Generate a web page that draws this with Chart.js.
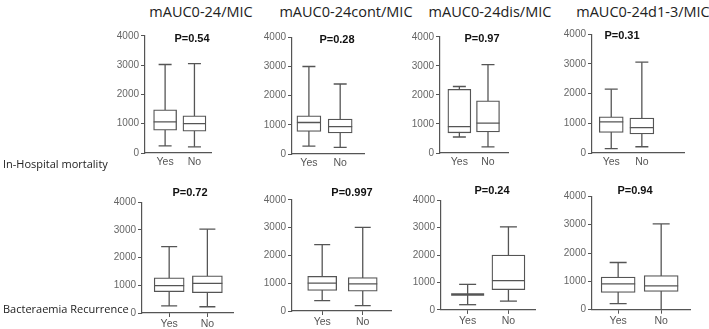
<!DOCTYPE html>
<html>
<head>
<meta charset="utf-8">
<script src="https://cdn.jsdelivr.net/npm/chart.js@4.4.1/dist/chart.umd.min.js"></script>
<style>
  body { margin: 0; background: #fff; }
  #page { position: relative; width: 709px; height: 329px; overflow: hidden; }
  canvas { position: absolute; }
  .lbl { position: absolute; white-space: nowrap; transform: translate(-50%, -50%); z-index: 2; }
  .title { font: 14.5px "Open Sans", sans-serif; color: #222; }
  .pval { font: bold 11px "Liberation Sans", Arial, sans-serif; color: #111; }
  .row { font: 11px "Open Sans", sans-serif; color: #222; transform: translate(0, -50%); }
</style>
</head>
<body>
<div id="page"></div>
<script>
const categories = ['Yes', 'No'];
const panelTitles = ['mAUC0-24/MIC', 'mAUC0-24cont/MIC', 'mAUC0-24dis/MIC', 'mAUC0-24d1-3/MIC'];
const rowLabels = ['In-Hospital mortality', 'Bacteraemia Recurrence'];
const yTicks = [0, 1000, 2000, 3000, 4000];

// each group: [min, q1, median, q3, max]
const mortAuc = [[240, 775, 1060, 1475, 3020], [210, 745, 1005, 1270, 3050]];
const mortCont = [[270, 775, 1080, 1310, 3000], [230, 720, 940, 1200, 2400]];
const mortDis = [[550, 695, 910, 2190, 2290], [210, 725, 1025, 1795, 3040]];
const mortD13 = [[150, 695, 1050, 1220, 2150], [210, 645, 855, 1180, 3060]];
const recAuc = [[255, 770, 990, 1270, 2400], [225, 735, 1070, 1345, 3030]];
const recCont = [[370, 740, 1000, 1250, 2390], [190, 710, 975, 1205, 3010]];
const recDis = [[190, 560, 560, 560, 930], [320, 735, 1065, 2000, 3025]];
const recD13 = [[215, 610, 910, 1150, 1665], [0, 645, 840, 1205, 3025]];

const pMort = ['P=0.54', 'P=0.28', 'P=0.97', 'P=0.31'];
const pRec = ['P=0.72', 'P=0.997', 'P=0.24', 'P=0.94'];

// layout: left, right, top, bottom, x of Yes, x of No, box width, cap width, p-label x, p-label y
const frames = [
  [145, 224, 31, 153, 169, 204, 23, 13, 192, 38],
  [292, 378, 32, 154, 312, 349, 24, 13, 337, 39],
  [440, 521, 32, 153, 463, 497, 23, 13, 482, 38],
  [592, 698, 29, 153, 614, 649, 24, 13, 622, 35],
  [142, 250, 194, 313, 174, 219, 30, 16, 190, 192],
  [292, 407, 192, 311, 327, 374, 29, 16, 352, 192],
  [441, 555, 189, 311, 473, 522, 33, 17, 492, 190],
  [592, 709, 186, 310, 623, 674, 34, 17, 635, 190]
];
const titlePos = [[201, 11], [346, 11], [490, 11], [643, 11]];
const rowPos = [[3, 163], [3, 308]];

const page = document.getElementById('page');
const ink = '#555';
const PAD_TOP = 8, Y_W = 40, X_H = 18;

function addText(cls, text, x, y) {
  const d = document.createElement('div');
  d.className = 'lbl ' + cls;
  d.textContent = text;
  d.style.left = x + 'px';
  d.style.top = y + 'px';
  page.appendChild(d);
}

function drawPanel(stats, pText, f, row) {
  const [L, R, T, B, xYes, xNo, bw, cap, px, py] = f;
  const cv = document.createElement('canvas');
  const w = R - L + Y_W, h = B - T + PAD_TOP + X_H;
  cv.width = w; cv.height = h;
  cv.style.left = (L - Y_W) + 'px';
  cv.style.top = (T - PAD_TOP) + 'px';
  cv.style.width = w + 'px'; cv.style.height = h + 'px';
  page.appendChild(cv);

  const unit = xNo - xYes;
  const xMin = 1 - (xYes - L) / unit;
  const xMax = 2 + (R - xNo) / unit;

  const whisk = [], caps = [], meds = [], boxes = [];
  stats.forEach((s, k) => {
    whisk.push({ x: k + 1, y: s[0] }, { x: k + 1, y: s[4] }, { x: k + 1, y: null });
    caps.push({ x: k + 1, y: s[0] }, { x: k + 1, y: s[4] });
    meds.push({ x: k + 1, y: s[2], flat: s[1] === s[3] });
    boxes.push({ x: k + 1, y: [s[1], s[3]] });
  });

  new Chart(cv, {
    type: 'bar',
    data: {
      datasets: [
        { type: 'line', data: whisk, borderColor: ink, borderWidth: 1.3, pointRadius: 0, spanGaps: false, order: 3 },
        { type: 'bar', data: boxes, backgroundColor: '#fff', borderColor: ink, borderWidth: 1.3,
          borderSkipped: false, barThickness: bw, grouped: false, order: 2 },
        { type: 'line', data: caps, showLine: false, pointStyle: 'line', pointRadius: cap / 2,
          pointBorderColor: ink, pointBorderWidth: 1.3, order: 1 },
        { type: 'line', data: meds, showLine: false, pointStyle: 'line', pointRadius: bw / 2,
          pointBorderColor: ink, pointBorderWidth: ctx => (ctx.raw && ctx.raw.flat ? 2.6 : 1.3), order: 0 }
      ]
    },
    options: {
      responsive: false,
      animation: false,
      devicePixelRatio: 1,
      events: [],
      layout: { padding: { top: PAD_TOP, right: 0, left: 0, bottom: 0 } },
      plugins: { legend: { display: false }, tooltip: { enabled: false } },
      scales: {
        x: {
          type: 'linear', min: xMin, max: xMax, offset: false,
          afterBuildTicks: s => { s.ticks = [{ value: 1 }, { value: 2 }]; },
          afterFit: s => { s.height = X_H; },
          grid: { offset: false, drawOnChartArea: false, drawTicks: row === 1, tickLength: 4, color: ink },
          border: { display: true, color: ink, width: 1.2 },
          ticks: { callback: v => categories[v - 1], color: '#555', padding: row === 1 ? 1 : 3,
                   font: { family: 'Liberation Sans', size: 10.5 }, maxRotation: 0 }
        },
        y: {
          min: 0, max: 4000,
          afterBuildTicks: s => { s.ticks = yTicks.map(v => ({ value: v })); },
          afterFit: s => { s.width = Y_W; },
          grid: { drawOnChartArea: false, tickLength: 4, color: ink },
          border: { display: true, color: ink, width: 1.2 },
          ticks: { callback: v => String(v), color: '#666', padding: 2,
                   font: { family: 'Liberation Sans', size: 10 } }
        }
      }
    }
  });
  addText('pval', pText, px, py);
}

const panels = [mortAuc, mortCont, mortDis, mortD13, recAuc, recCont, recDis, recD13];
const pTexts = pMort.concat(pRec);
panels.forEach((stats, i) => drawPanel(stats, pTexts[i], frames[i], i < 4 ? 0 : 1));

panelTitles.forEach((t, i) => addText('title', t, titlePos[i][0], titlePos[i][1]));
rowLabels.forEach((t, i) => addText('row', t, rowPos[i][0], rowPos[i][1]));
</script>
</body>
</html>
